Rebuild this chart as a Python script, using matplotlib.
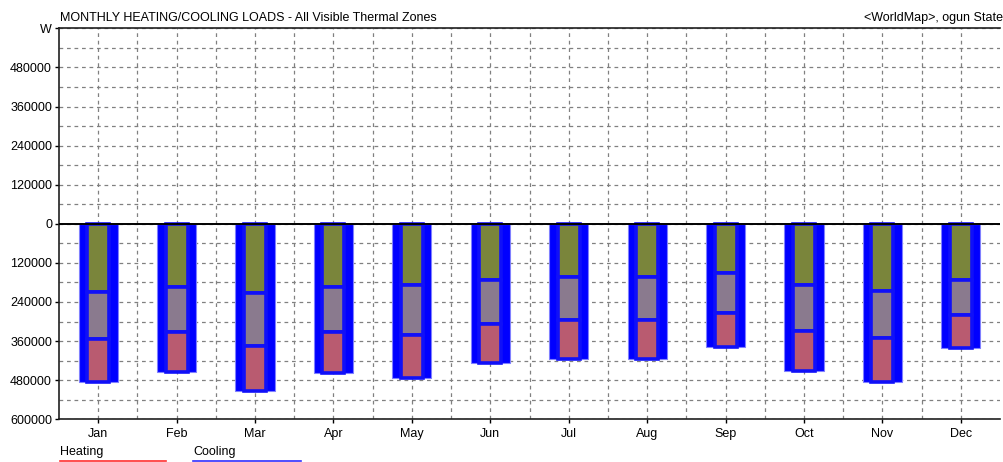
#!/usr/bin/env python3

import numpy as np
import matplotlib
matplotlib.use("Agg")
import matplotlib.pyplot as plt
from matplotlib.ticker import FuncFormatter, MultipleLocator
from matplotlib.lines import Line2D

months = ['Jan', 'Feb', 'Mar', 'Apr', 'May', 'Jun',
          'Jul', 'Aug', 'Sep', 'Oct', 'Nov', 'Dec']

# load components (W), drawn downwards from zero, top to bottom
olive_part = [209000, 193000, 213000, 193000, 188000, 171000,
              163000, 164000, 152000, 188000, 205000, 171000]
purple_part = [144000, 139000, 161000, 139000, 153000, 137000,
               132000, 131000, 122000, 140000, 145000, 108000]
red_part = [132000, 124000, 140000, 127000, 132000, 119000,
            119000, 120000, 103000, 124000, 135000, 101000]

title_left = 'MONTHLY HEATING/COOLING LOADS - All Visible Thermal Zones'
title_right = '<WorldMap>, ogun State'

plt.rcParams['font.family'] = ['Liberation Sans', 'DejaVu Sans']
plt.rcParams['font.size'] = 9

fig = plt.figure(figsize=(10.04, 4.62), dpi=100)
ax = fig.add_axes([59 / 1004, (462 - 419.3) / 462, 941 / 1004, 391 / 462])

x = np.arange(len(months))
olive = -np.array(olive_part)
purple = -np.array(purple_part)
red = -np.array(red_part)
total = olive + purple + red

# outer cooling bar
ax.bar(x, total, width=0.5, color='#0000FF', edgecolor='#8080FF',
       linewidth=0.8, zorder=3)

# inner stacked components, blue edges leave the gap between them
seg_kw = dict(width=0.28, edgecolor='#1010F8', linewidth=2.6, zorder=4)
ax.bar(x, olive, color='#7A853B', **seg_kw)
ax.bar(x, purple, bottom=olive, color='#8A7A8E', **seg_kw)
ax.bar(x, red, bottom=olive + purple, color='#B95B70', **seg_kw)

ax.axhline(0, color='black', linewidth=1.4, zorder=6)

ax.set_xlim(-0.5, len(months) - 0.5)
ax.set_ylim(-600000, 600000)

ax.set_xticks(x)
ax.set_xticklabels(months)
ax.set_xticks(x[:-1] + 0.5, minor=True)
ax.yaxis.set_major_locator(MultipleLocator(120000))
ax.yaxis.set_minor_locator(MultipleLocator(60000))
ax.yaxis.set_major_formatter(FuncFormatter(
    lambda v, p: 'W' if v >= 600000 else '%d' % abs(v)))

ax.tick_params(axis='both', which='major', length=3, width=1, pad=2,
               labelsize=9, colors='black')
ax.tick_params(axis='x', which='minor', length=0)
ax.tick_params(axis='y', which='minor', length=0)
ax.tick_params(axis='x', pad=3)

ax.grid(True, which='both', axis='both', color='#808080', linestyle=(0, (3, 3)),
        linewidth=0.9, zorder=0)
ax.set_axisbelow(True)

for s in ['left', 'bottom', 'top']:
    ax.spines[s].set_linewidth(1.2)
    ax.spines[s].set_color('#202020')
ax.spines['right'].set_visible(False)

fig.text(60 / 1004, 1 - 18 / 462, title_left, fontsize=9, va='center', ha='left')
fig.text(1003 / 1004, 1 - 18 / 462, title_right, fontsize=9, va='center', ha='right')

# legend below the axes
fig.text(60 / 1004, 1 - 452 / 462, 'Heating', fontsize=9, va='center', ha='left')
fig.text(193 / 1004, 1 - 452 / 462, 'Cooling', fontsize=9, va='center', ha='left')
fig.add_artist(Line2D([60 / 1004, 166 / 1004], [1 - 461 / 462] * 2,
                      color='#FF3030', linewidth=1.2, transform=fig.transFigure))
fig.add_artist(Line2D([193 / 1004, 301 / 1004], [1 - 461 / 462] * 2,
                      color='#3030FF', linewidth=1.2, transform=fig.transFigure))

fig.savefig('out.png', dpi=100)
